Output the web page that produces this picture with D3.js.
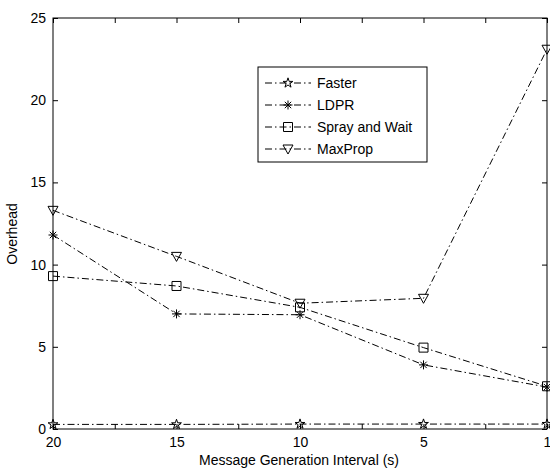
<!DOCTYPE html>
<html><head><meta charset="utf-8">
<script src="https://cdn.jsdelivr.net/npm/d3@7"></script>
<style>
body{margin:0;background:#fff;}
text{font-family:"Liberation Sans",Arial,sans-serif;fill:#000;}
</style></head>
<body><svg id="c" width="550" height="475"></svg>
<script>
const xLabels = ["20","15","10","5","1"];
const seriesNames = ["Faster","LDPR","Spray and Wait","MaxProp"];
const faster = [0.28, 0.28, 0.3, 0.3, 0.3];
const ldpr = [11.8, 7.0, 6.95, 3.9, 2.55];
const spray = [9.3, 8.7, 7.4, 4.95, 2.6];
const maxprop = [13.3, 10.5, 7.65, 7.95, 23.1];
const yTicks = [0,5,10,15,20,25];

const series = [
  {name: seriesNames[0], values: faster, marker: "star"},
  {name: seriesNames[1], values: ldpr, marker: "asterisk"},
  {name: seriesNames[2], values: spray, marker: "square"},
  {name: seriesNames[3], values: maxprop, marker: "tridown"}
];

const svg = d3.select("#c");
const L = 53, R = 547, T = 18, B = 429;
const x = d3.scaleLinear().domain([0, xLabels.length - 1]).range([L, R]);
const y = d3.scaleLinear().domain([0, 25]).range([B, T]);

const xt = d3.range(0, xLabels.length - 0.99, 0.5);
const fmtX = d => Number.isInteger(d) ? xLabels[d] : "";

// axes
svg.append("g").attr("transform", `translate(0,${B})`)
  .call(d3.axisBottom(x).tickValues(xt).tickFormat(fmtX).tickSizeInner(-5).tickSizeOuter(0).tickPadding(10))
  .call(g => { g.select(".domain").remove(); g.selectAll("text").attr("font-size", 14).attr("dy", "0.55em"); });
svg.append("g").attr("transform", `translate(0,${T})`)
  .call(d3.axisTop(x).tickValues(xt).tickFormat("").tickSizeInner(-5).tickSizeOuter(0))
  .call(g => g.select(".domain").remove());
svg.append("g").attr("transform", `translate(${L},0)`)
  .call(d3.axisLeft(y).tickValues(yTicks).tickSizeInner(-5).tickSizeOuter(0).tickPadding(7))
  .call(g => { g.select(".domain").remove(); g.selectAll("text").attr("font-size", 14); });
svg.append("g").attr("transform", `translate(${R},0)`)
  .call(d3.axisRight(y).tickValues(yTicks).tickFormat("").tickSizeInner(-5).tickSizeOuter(0))
  .call(g => g.select(".domain").remove());
svg.selectAll(".tick line").attr("stroke", "#000");

svg.append("rect").attr("x", L).attr("y", T).attr("width", R - L).attr("height", B - T)
  .attr("fill", "none").attr("stroke", "#000").attr("stroke-width", 1);

// labels
svg.append("text").attr("x", 299).attr("y", 465).attr("text-anchor", "middle")
  .attr("font-size", 14).text("Message Generation Interval (s)");
svg.append("text").attr("transform", "translate(17,234) rotate(-90)").attr("text-anchor", "middle")
  .attr("font-size", 14).text("Overhead");

function marker(g, type) {
  if (type === "star") {
    g.append("path").attr("d", d3.symbol(d3.symbolStar, 30)());
  } else if (type === "asterisk") {
    g.append("path").attr("d", "M-4.5,0H4.5M0,-4.5V4.5M-3.2,-3.2L3.2,3.2M-3.2,3.2L3.2,-3.2");
  } else if (type === "square") {
    g.append("path").attr("d", "M-4.5,-4.5H4.5V4.5H-4.5Z");
  } else {
    g.append("path").attr("d", "M-5,-4H5L0,5Z");
  }
  g.selectAll("path").attr("fill", "none").attr("stroke", "#000").attr("stroke-width", 1);
}

const line = d3.line().x((d, i) => x(i)).y(d => y(d));
const dash = "7,3,1.5,3";
series.forEach(s => {
  svg.append("path").datum(s.values).attr("d", line)
    .attr("fill", "none").attr("stroke", "#000").attr("stroke-width", 1)
    .attr("stroke-dasharray", dash);
  s.values.forEach((v, i) => {
    const g = svg.append("g").attr("transform", `translate(${x(i)},${y(v)})`);
    marker(g, s.marker);
  });
});

// legend
const lg = svg.append("g");
lg.append("rect").attr("x", 258).attr("y", 67).attr("width", 169).attr("height", 95)
  .attr("fill", "#fff").attr("stroke", "#000").attr("stroke-width", 1);
series.forEach((s, i) => {
  const cy = 83 + i * 22;
  lg.append("line").attr("x1", 265).attr("x2", 311).attr("y1", cy).attr("y2", cy)
    .attr("stroke", "#000").attr("stroke-width", 1).attr("stroke-dasharray", dash);
  const g = lg.append("g").attr("transform", `translate(288,${cy})`);
  marker(g, s.marker);
  lg.append("text").attr("x", 317).attr("y", cy).attr("dy", "0.35em").attr("font-size", 14).text(s.name);
});
</script></body></html>
